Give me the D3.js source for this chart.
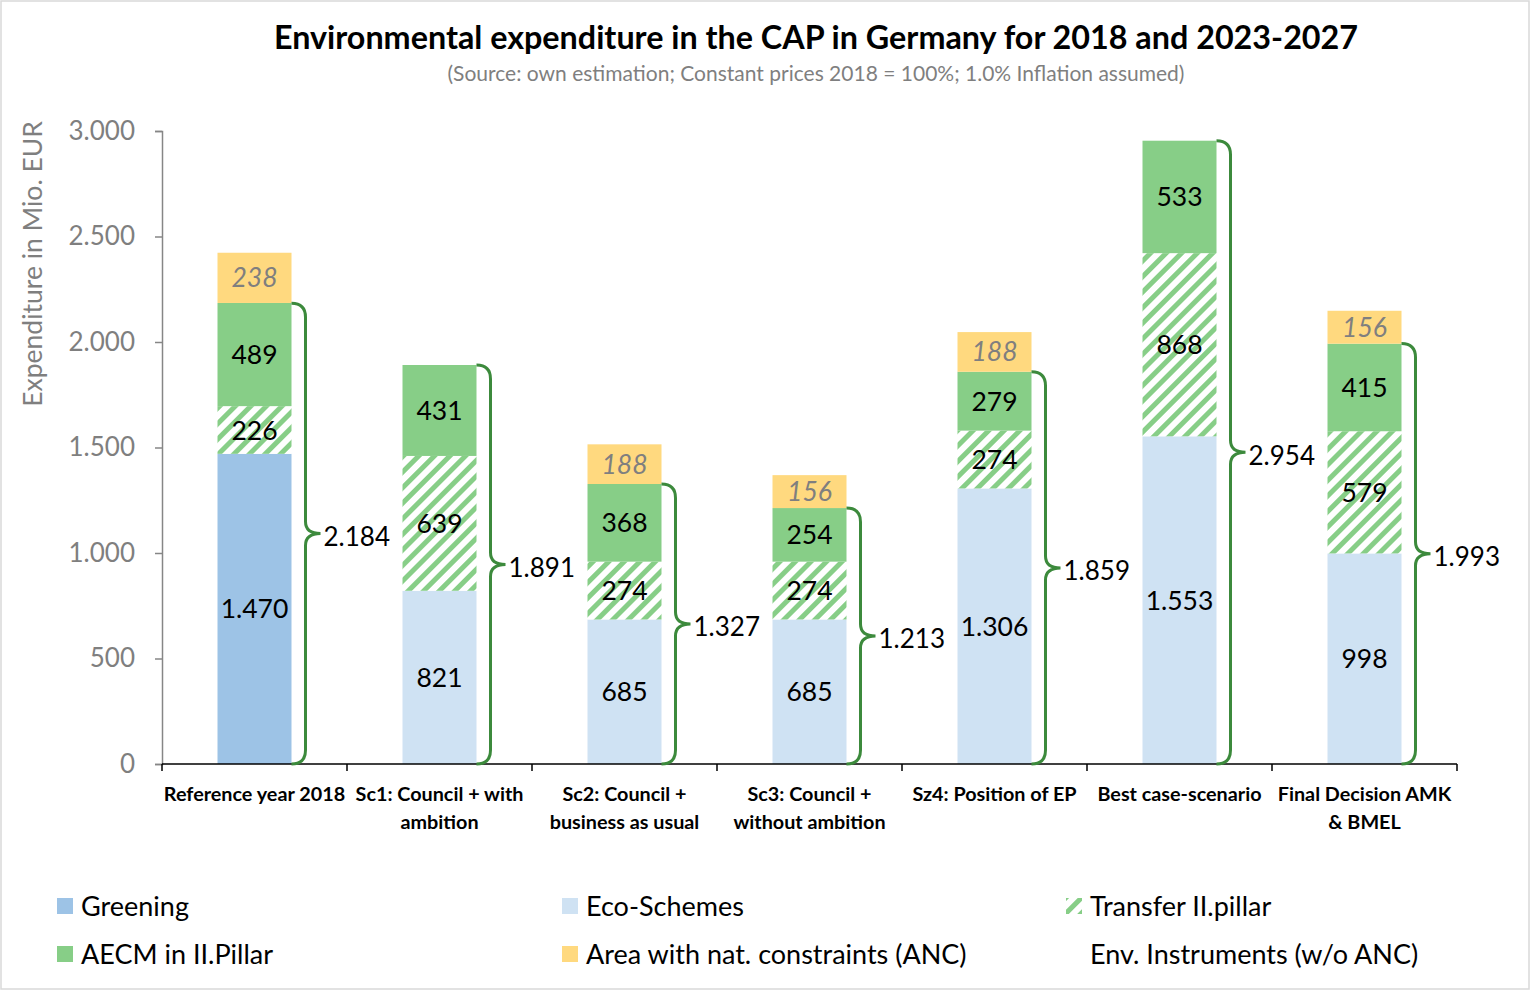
<!DOCTYPE html>
<html><head><meta charset="utf-8">
<script src="https://cdn.jsdelivr.net/npm/d3@7"></script>
<style>body{margin:0;background:#fff;font-family:Lato,sans-serif}</style>
</head><body><svg id="c" width="1531" height="991"></svg>
<script>
const categories = [["Reference year 2018"],["Sc1: Council + with","ambition"],["Sc2: Council +","business as usual"],["Sc3: Council +","without ambition"],["Sz4: Position of EP"],["Best case-scenario"],["Final Decision AMK","& BMEL"]];
const greening = [1470,0,0,0,0,0,0];
const ecoSchemes = [0,821,685,685,1306,1553,998];
const transfer = [226,639,274,274,274,868,579];
const aecm = [489,431,368,254,279,533,415];
const anc = [238,0,188,156,188,0,156];
const envTotal = [2184,1891,1327,1213,1859,2954,1993];
const yTicks = [0,500,1000,1500,2000,2500,3000];

const loc = d3.formatLocale({decimal:",",thousands:".",grouping:[3],currency:["","€"]});
const fmt = loc.format(",d");

const svg = d3.select("#c");
svg.append("rect").attr("x",1).attr("y",1).attr("width",1528).attr("height",988).attr("fill","#fff").attr("stroke","#d9d9d9").attr("stroke-width",1.5);

const defs = svg.append("defs");
const pat = defs.append("pattern").attr("id","hatch").attr("patternUnits","userSpaceOnUse").attr("width",11).attr("height",11).attr("patternTransform","rotate(45)");
pat.append("rect").attr("width",11).attr("height",11).attr("fill","#fff");
pat.append("rect").attr("width",5).attr("height",11).attr("fill","#87ce87");

const x0 = 162, x1 = 1457, yB = 764, yT = 131;
const x = d3.scaleBand().domain(d3.range(categories.length)).range([x0,x1]).paddingInner(0.6).paddingOuter(0.3);
const xb = d3.scaleBand().domain(d3.range(categories.length)).range([x0,x1]);
const y = d3.scaleLinear().domain([0,3000]).range([yB,yT]);

const series = [
  {key:"Greening", vals:greening, fill:"#9dc3e6"},
  {key:"Eco-Schemes", vals:ecoSchemes, fill:"#cfe2f3"},
  {key:"Transfer II.pillar", vals:transfer, fill:"url(#hatch)"},
  {key:"AECM in II.Pillar", vals:aecm, fill:"#87ce87"},
  {key:"Area with nat. constraints (ANC)", vals:anc, fill:"#ffd97f", italic:true}
];

// title
svg.append("text").attr("x",816).attr("y",49).attr("text-anchor","middle").attr("font-weight","bold").attr("font-size",32.3).attr("fill","#000").text("Environmental expenditure in the CAP in Germany for 2018 and 2023-2027");
svg.append("text").attr("x",816).attr("y",81).attr("text-anchor","middle").attr("font-size",21).attr("fill","#7f7f7f").text("(Source: own estimation; Constant prices 2018 = 100%; 1.0% Inflation assumed)");

// y axis
const ya = svg.append("g").attr("transform",`translate(${x0},0)`).call(d3.axisLeft(y).tickValues(yTicks).tickFormat(fmt).tickSize(7).tickPadding(20));
ya.select(".domain").attr("stroke","#868686").attr("stroke-width",1.5);
ya.selectAll(".tick line").attr("stroke","#868686").attr("stroke-width",1.5);
ya.selectAll(".tick text").attr("font-size",26).attr("fill","#7f7f7f").attr("font-family","Lato,sans-serif");
svg.append("text").attr("transform","translate(42,264) rotate(-90)").attr("text-anchor","middle").attr("font-size",26.5).attr("fill","#7f7f7f").text("Expenditure in Mio. EUR");

// bars
const stacks = [];
categories.forEach((c,i)=>{
  let base = 0;
  series.forEach(s=>{
    const v = s.vals[i];
    if (v>0) stacks.push({i, s, y0:base, y1:base+v, v});
    base += v;
  });
});
const g = svg.append("g");
g.selectAll("rect").data(stacks).join("rect")
  .attr("x",d=>x(d.i)).attr("width",x.bandwidth())
  .attr("y",d=>y(d.y1)).attr("height",d=>y(d.y0)-y(d.y1))
  .attr("fill",d=>d.s.fill);
g.selectAll("text").data(stacks).join("text")
  .attr("x",d=>x(d.i)+x.bandwidth()/2).attr("y",d=>y((d.y0+d.y1)/2)).attr("dy","0.36em")
  .attr("text-anchor","middle").attr("font-size",26.5)
  .attr("font-style",d=>d.s.italic?"italic":"normal")
  .attr("fill",d=>d.s.italic?"#7f7f7f":"#000")
  .text(d=>fmt(d.v));

// x axis
const xa = svg.append("g").attr("transform",`translate(0,${yB})`);
xa.append("line").attr("x1",x0).attr("x2",x1).attr("stroke","#000").attr("stroke-width",1.5);
d3.range(categories.length+1).forEach(k=>{
  const xx = k<categories.length ? xb(k) : x1;
  xa.append("line").attr("x1",xx).attr("x2",xx).attr("y1",0).attr("y2",7).attr("stroke","#000").attr("stroke-width",1.5);
});
categories.forEach((lines,i)=>{
  const t = xa.append("text").attr("text-anchor","middle").attr("font-weight","bold").attr("font-size",19.8).attr("fill","#000");
  lines.forEach((l,j)=>t.append("tspan").attr("x",xb(i)+xb.bandwidth()/2).attr("y",37+j*28).text(l));
});

// braces
const bg = svg.append("g");
envTotal.forEach((tot,i)=>{
  const xr = x(i)+x.bandwidth();
  const r = 14, xv = xr+r, xp = xv+15;
  const ytop = y(tot), ybot = y(0), ym = (ytop+ybot)/2;
  const p = `M${xr},${ytop} Q${xv},${ytop} ${xv},${ytop+r} L${xv},${ym-12} Q${xv},${ym} ${xp},${ym} Q${xv},${ym} ${xv},${ym+12} L${xv},${ybot-r} Q${xv},${ybot} ${xr},${ybot}`;
  bg.append("path").attr("d",p).attr("fill","none").attr("stroke","#3c8a3c").attr("stroke-width",3);
  bg.append("text").attr("x",xp+3).attr("y",ym+3).attr("dy","0.36em").attr("font-size",26).attr("fill","#000").text(fmt(tot));
});

// legend
const legend = [
  {label:"Greening", fill:"#9dc3e6", col:0, row:0},
  {label:"Eco-Schemes", fill:"#cfe2f3", col:1, row:0},
  {label:"Transfer II.pillar", fill:"url(#hatch)", col:2, row:0},
  {label:"AECM in II.Pillar", fill:"#87ce87", col:0, row:1},
  {label:"Area with nat. constraints (ANC)", fill:"#ffd97f", col:1, row:1},
  {label:"Env. Instruments (w/o ANC)", fill:null, col:2, row:1}
];
const colX = [57,562,1066];
const lg = svg.append("g");
legend.forEach(d=>{
  const lx = colX[d.col], ly = 906 + d.row*48;
  if (d.fill) lg.append("rect").attr("x",lx).attr("y",ly-8).attr("width",16).attr("height",16).attr("fill",d.fill);
  lg.append("text").attr("x",lx+24).attr("y",ly).attr("dy","0.36em").attr("font-size",27).attr("fill","#000").text(d.label);
});
</script></body></html>
